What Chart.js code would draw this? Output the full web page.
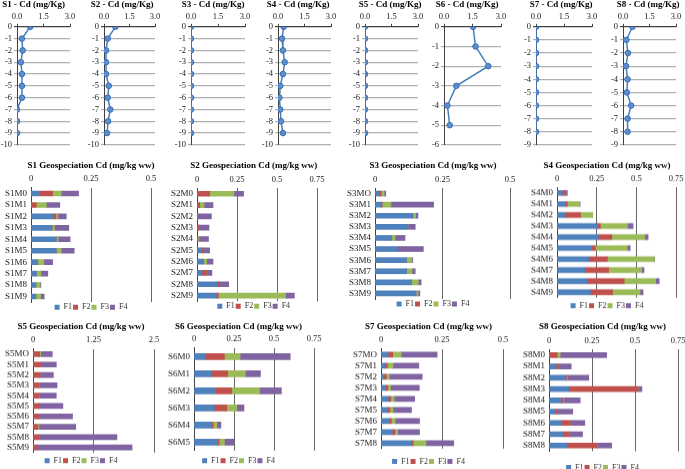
<!DOCTYPE html>
<html>
<head>
<meta charset="utf-8">
<title>Cd profiles and geospeciation</title>
<script src="https://cdn.jsdelivr.net/npm/chart.js@4.4.0/dist/chart.umd.min.js"></script>
<style>
  body { margin: 0; background: #fff; width: 685px; height: 469px; overflow: hidden; position: relative; }
  .box { position: absolute; }
</style>
</head>
<body>
<script>
// ---- depth profiles, Cd (mg/Kg) ----
const depth10 = [0, -1, -2, -3, -4, -5, -6, -7, -8, -9];
const depth9 = [0, -1, -2, -3, -4, -5, -6, -7, -8];
const depth6 = [0, -1, -2, -3, -4, -5];
const s1Cd = [0.75, 0.28, 0.32, 0.22, 0.28, 0.28, 0.28, 0, 0, 0];
const s2Cd = [0.67, 0.22, 0.12, 0.12, 0.12, 0.28, 0.22, 0.37, 0.24, 0.18];
const s3Cd = [0, 0, 0, 0, 0, 0, 0, 0, 0, 0];
const s4Cd = [0.32, 0.23, 0.28, 0.38, 0.28, 0.13, 0.08, 0.13, 0.17, 0.28];
const s5Cd = [0, 0, 0, 0, 0, 0, 0, 0, 0, 0];
const s6Cd = [1.53, 1.66, 2.33, 0.65, 0.18, 0.30];
const s7Cd = [0, 0, 0, 0, 0, 0, 0, 0, 0];
const s8Cd = [0.54, 0.19, 0.28, 0.17, 0.26, 0.22, 0.46, 0.26, 0.26];

// ---- geospeciation fractions F1..F4 (mg/kg ww) ----
const s1Labels = ['S1M0', 'S1M1', 'S1M2', 'S1M3', 'S1M4', 'S1M5', 'S1M6', 'S1M7', 'S1M8', 'S1M9'];
const s1F1 = [0.036, 0, 0.094, 0.0875, 0.105, 0.105, 0.028, 0.022, 0.02, 0.02];
const s1F2 = [0.054, 0.022, 0.01, 0, 0, 0, 0, 0, 0, 0];
const s1F3 = [0.036, 0.042, 0.008, 0.01, 0.008, 0.021, 0.025, 0.019, 0.018, 0.02];
const s1F4 = [0.072, 0.056, 0.035, 0.06, 0.05, 0.054, 0.037, 0.029, 0.003, 0.015];

const s2Labels = ['S2M0', 'S2M1', 'S2M2', 'S2M3', 'S2M4', 'S2M5', 'S2M6', 'S2M7', 'S2M8', 'S2M9'];
const s2F1 = [0, 0, 0, 0, 0, 0.027, 0.035, 0.031, 0.125, 0.121];
const s2F2 = [0.079, 0.017, 0, 0.012, 0.006, 0.008, 0.006, 0.027, 0.017, 0.0125];
const s2F3 = [0.152, 0.027, 0, 0, 0.006, 0, 0.019, 0, 0, 0.419];
const s2F4 = [0.06, 0.056, 0.09, 0.063, 0.06, 0.044, 0.04, 0.035, 0.056, 0.056];

const s3Labels = ['S3MO', 'S3M1', 'S3M2', 'S3M3', 'S3M4', 'S3M5', 'S3M6', 'S3M7', 'S3M8', 'S3M9'];
const s3F1 = [0.016, 0.025, 0.14, 0.12, 0.062, 0.083, 0.117, 0.117, 0.135, 0.152];
const s3F2 = [0.007, 0.002, 0, 0, 0, 0, 0, 0, 0, 0];
const s3F3 = [0.011, 0.032, 0.01, 0.002, 0.012, 0, 0.02, 0.02, 0.025, 0.007];
const s3F4 = [0.006, 0.158, 0.009, 0.027, 0.037, 0.096, 0.003, 0.012, 0.011, 0.007];

const s4Labels = ['S4M0', 'S4M1', 'S4M2', 'S4M3', 'S4M4', 'S4M5', 'S4M6', 'S4M7', 'S4M8', 'S4M9'];
const s4F1 = [0.033, 0.048, 0.052, 0.256, 0.26, 0.219, 0.2, 0.177, 0.19, 0.21];
const s4F2 = [0.017, 0.017, 0.096, 0.017, 0.085, 0.023, 0.117, 0.148, 0.233, 0.14];
const s4F3 = [0, 0.077, 0.077, 0.171, 0.208, 0.2, 0.296, 0.208, 0.198, 0.173];
const s4F4 = [0.015, 0.004, 0, 0.035, 0.021, 0.019, 0.002, 0.015, 0.023, 0.019];

const s5Labels = ['S5MO', 'S5M1', 'S5M2', 'S5M3', 'S5M4', 'S5M5', 'S5M6', 'S5M7', 'S5M8', 'S5M9'];
const s5F1 = [0, 0, 0, 0, 0, 0, 0, 0, 0, 0];
const s5F2 = [0.138, 0.165, 0.145, 0.124, 0.131, 0.117, 0.117, 0.103, 0.124, 0.097];
const s5F3 = [0.02, 0, 0, 0, 0, 0, 0, 0.02, 0, 0];
const s5F4 = [0.24, 0.317, 0.276, 0.372, 0.35, 0.5, 0.7, 0.76, 1.61, 1.95];

const s6Labels = ['S6M0', 'S6M1', 'S6M2', 'S6M3', 'S6M4', 'S6M5'];
const s6F1 = [0.07, 0.106, 0.135, 0.127, 0.11, 0.147];
const s6F2 = [0.12, 0.104, 0.1, 0.077, 0.01, 0.01];
const s6F3 = [0.098, 0.11, 0.174, 0.062, 0.023, 0.033];
const s6F4 = [0.313, 0.095, 0.137, 0.046, 0.025, 0.058];

const s7Labels = ['S7MO', 'S7M1', 'S7M2', 'S7M3', 'S7M4', 'S7M5', 'S7M6', 'S7M7', 'S7M8'];
const s7F1 = [0.029, 0.015, 0.012, 0.018, 0.03, 0.027, 0.031, 0.046, 0.125];
const s7F2 = [0.019, 0.011, 0.01, 0.01, 0.01, 0.01, 0.011, 0.012, 0.007];
const s7F3 = [0.035, 0.023, 0.012, 0.011, 0.014, 0.012, 0.016, 0.01, 0.052];
const s7F4 = [0.147, 0.106, 0.135, 0.118, 0.084, 0.076, 0.1, 0.09, 0.114];

const s8Labels = ['S8M0', 'S8M1', 'S8M2', 'S8M3', 'S8M4', 'S8M5', 'S8M6', 'S8M7', 'S8M8'];
const s8F1 = [0, 0.04, 0.096, 0.115, 0.071, 0.033, 0.073, 0.079, 0.102];
const s8F2 = [0.048, 0.012, 0.006, 0.402, 0.01, 0.013, 0.05, 0.037, 0.179];
const s8F3 = [0.017, 0, 0.004, 0, 0.004, 0, 0, 0, 0];
const s8F4 = [0.27, 0.077, 0.125, 0.023, 0.096, 0.092, 0.085, 0.079, 0.083];

const fractionNames = ['F1', 'F2', 'F3', 'F4'];
const fractionColors = ['#4f81bd', '#c0504d', '#9bbb59', '#8064a2'];

const SERIF = "'Liberation Serif', 'Times New Roman', serif";
Chart.defaults.font.family = SERIF;
Chart.defaults.color = '#222';
Chart.defaults.animation = false;
Chart.defaults.plugins.tooltip.enabled = false;

function makeCanvas(left, top, width, height) {
  const div = document.createElement('div');
  div.className = 'box';
  div.style.left = left + 'px';
  div.style.top = top + 'px';
  div.style.width = width + 'px';
  div.style.height = height + 'px';
  const c = document.createElement('canvas');
  div.appendChild(c);
  document.body.appendChild(div);
  return c;
}

// title and legend centre on the canvas, so widen it with an empty right axis
function hLayout(axisX, right, titleC, labelLeft) {
  const L = Math.min(labelLeft, 2 * titleC - right - 10);
  return { L: L, yW: axisX - L, rW: 2 * titleC - right - L, W: 2 * (titleC - L) };
}

function spacerAxis(width) {
  return {
    type: 'linear', position: 'right', min: 0, max: 1,
    ticks: { display: false }, grid: { display: false, drawTicks: false },
    border: { display: false },
    afterFit: s => { s.width = width; }
  };
}

// small depth-profile line chart (x axis on top, depth downwards)
function drawProfile(title, depth, cd, yMin, pos) {
  const h = hLayout(pos.axisX, pos.right, pos.titleC, pos.axisX - 20);
  const titleH = 9, T = -0.5, H = 152;
  const chartTop = 26.3, chartBottom = 145.5;
  const xH = chartTop - T - titleH;
  const padB = T + H - chartBottom;

  new Chart(makeCanvas(h.L, T, h.W, H), {
    type: 'scatter',
    data: {
      datasets: [{
        data: depth.map((d, i) => ({ x: cd[i], y: d })),
        showLine: true,
        borderColor: '#4a7ebb',
        borderWidth: 1.5,
        pointRadius: 2.8,
        pointBackgroundColor: '#5b8fd0',
        pointBorderColor: '#3c6eb4',
        pointBorderWidth: 1
      }]
    },
    options: {
      responsive: true, maintainAspectRatio: false,
      layout: { padding: { top: 0, left: 0, right: 0, bottom: padB } },
      plugins: {
        legend: { display: false },
        title: { display: true, text: title, color: '#000', padding: 0, font: { size: 9, weight: 'bold', lineHeight: 1 } }
      },
      scales: {
        x: {
          type: 'linear', position: 'top', min: 0, max: 3,
          ticks: { stepSize: 1.5, callback: v => v.toFixed(1), font: { size: 8.5 }, padding: 2 },
          grid: { drawOnChartArea: false, tickLength: 3, color: '#404040' },
          border: { color: '#404040' },
          afterFit: s => { s.height = xH; }
        },
        y: {
          type: 'linear', min: yMin, max: 0,
          ticks: { stepSize: 1, autoSkip: false, callback: v => String(v), font: { size: 8.5 }, padding: 2 },
          grid: { color: c => (c.tick && c.tick.value === 0) ? '#404040' : '#b0b0b0', tickLength: 3, lineWidth: 1.2 },
          border: { color: '#404040' },
          afterFit: s => { s.width = h.yW; }
        },
        yR: spacerAxis(h.rW)
      }
    }
  });
}

// stacked horizontal geospeciation bars
function drawBars(title, labels, series, max, step, pos) {
  const h = hLayout(pos.axisX, pos.right, pos.titleC, pos.labelLeft - 3);
  const titleH = 9;
  const T = pos.titleY - titleH / 2;
  const xH = pos.top - T - titleH;
  const itemH = 8, lp = 1;
  const extra = Math.max(0, pos.legendY - pos.bottom - lp - itemH / 2 - 1);
  const legendTitleH = extra > 0 ? 1 + extra : 0;
  const legendH = itemH + lp + legendTitleH + 10;
  const padB = 2;
  const H = pos.bottom - T + legendH + padB;

  new Chart(makeCanvas(h.L, T, h.W, H), {
    type: 'bar',
    data: {
      labels: labels,
      datasets: series.map((d, i) => ({
        label: fractionNames[i],
        data: d,
        backgroundColor: fractionColors[i],
        barThickness: pos.thick
      }))
    },
    options: {
      indexAxis: 'y',
      responsive: true, maintainAspectRatio: false,
      layout: { padding: { top: 0, left: 0, right: 0, bottom: padB } },
      plugins: {
        title: { display: true, text: title, color: '#000', padding: 0, font: { size: 9, weight: 'bold', lineHeight: 1 } },
        legend: {
          position: 'bottom',
          title: { display: extra > 0, text: ' ', font: { size: 1, lineHeight: 1 }, padding: { top: extra, bottom: 0 } },
          labels: { boxWidth: 5, boxHeight: 5, padding: lp, font: { size: 8 }, color: '#333' }
        }
      },
      scales: {
        x: {
          stacked: true, position: 'top', min: 0, max: max,
          ticks: { stepSize: step, callback: v => String(v), font: { size: 8.5 }, padding: 3.5 },
          grid: { color: '#666', drawTicks: false, lineWidth: 1 },
          border: { display: false },
          afterFit: s => { s.height = xH; }
        },
        y: {
          stacked: true,
          ticks: { autoSkip: false, font: { size: 9 }, padding: 4, color: '#222' },
          grid: { display: false, drawTicks: false },
          border: { color: '#444' },
          afterFit: s => { s.width = h.yW; }
        },
        yR: spacerAxis(h.rW)
      }
    }
  });
}

drawProfile('S1 - Cd (mg/Kg)', depth10, s1Cd, -10, { axisX: 17, right: 70, titleC: 33.5 });
drawProfile('S2 - Cd (mg/Kg)', depth10, s2Cd, -10, { axisX: 104, right: 155, titleC: 122 });
drawProfile('S3 - Cd (mg/Kg)', depth10, s3Cd, -10, { axisX: 191, right: 245, titleC: 213 });
drawProfile('S4 - Cd (mg/Kg)', depth10, s4Cd, -10, { axisX: 278, right: 331, titleC: 298 });
drawProfile('S5 - Cd (mg/Kg)', depth10, s5Cd, -10, { axisX: 365, right: 418, titleC: 390 });
drawProfile('S6 - Cd (mg/Kg)', depth6, s6Cd, -6, { axisX: 444, right: 501, titleC: 467 });
drawProfile('S7 - Cd (mg/Kg)', depth9, s7Cd, -9, { axisX: 536, right: 592, titleC: 561 });
drawProfile('S8 - Cd (mg/Kg)', depth9, s8Cd, -9, { axisX: 623, right: 676, titleC: 648 });

drawBars('S1 Geospeciation Cd (mg/kg ww)', s1Labels, [s1F1, s1F2, s1F3, s1F4], 0.5, 0.25,
  { axisX: 31, right: 151, titleC: 91, labelLeft: 6, titleY: 165, top: 187.3, bottom: 301.7, legendY: 306, thick: 5 });
drawBars('S2 Geospeciation Cd (mg/kg ww)', s2Labels, [s2F1, s2F2, s2F3, s2F4], 0.75, 0.25,
  { axisX: 197, right: 317, titleC: 253.7, labelLeft: 172, titleY: 165, top: 187.6, bottom: 300.7, legendY: 306, thick: 5 });
drawBars('S3 Geospeciation Cd (mg/kg ww)', s3Labels, [s3F1, s3F2, s3F3, s3F4], 0.5, 0.25,
  { axisX: 375, right: 510, titleC: 433, labelLeft: 350, titleY: 165, top: 187.5, bottom: 298.5, legendY: 303, thick: 5 });
drawBars('S4 Geospeciation Cd (mg/kg ww)', s4Labels, [s4F1, s4F2, s4F3, s4F4], 0.75, 0.25,
  { axisX: 557, right: 677, titleC: 607, labelLeft: 534, titleY: 165.7, top: 187.5, bottom: 297, legendY: 305, thick: 5 });
drawBars('S5 Geospeciation Cd (mg/kg ww)', s5Labels, [s5F1, s5F2, s5F3, s5F4], 2.5, 1.25,
  { axisX: 33, right: 154, titleC: 81, labelLeft: 8, titleY: 326.7, top: 349, bottom: 452, legendY: 460, thick: 5 });
drawBars('S6 Geospeciation Cd (mg/kg ww)', s6Labels, [s6F1, s6F2, s6F3, s6F4], 0.75, 0.25,
  { axisX: 194, right: 315, titleC: 238.5, labelLeft: 170, titleY: 326.7, top: 348, bottom: 450, legendY: 460, thick: 6 });
drawBars('S7 Geospeciation Cd (mg/kg ww)', s7Labels, [s7F1, s7F2, s7F3, s7F4], 0.5, 0.25,
  { axisX: 381, right: 503, titleC: 428.5, labelLeft: 355, titleY: 326.7, top: 349, bottom: 448, legendY: 460.7, thick: 5 });
drawBars('S8 Geospeciation Cd (mg/kg ww)', s8Labels, [s8F1, s8F2, s8F3, s8F4], 0.75, 0.25,
  { axisX: 549, right: 679, titleC: 602.5, labelLeft: 525, titleY: 326.7, top: 349.4, bottom: 450.6, legendY: 466.7, thick: 5 });
</script>
</body>
</html>
